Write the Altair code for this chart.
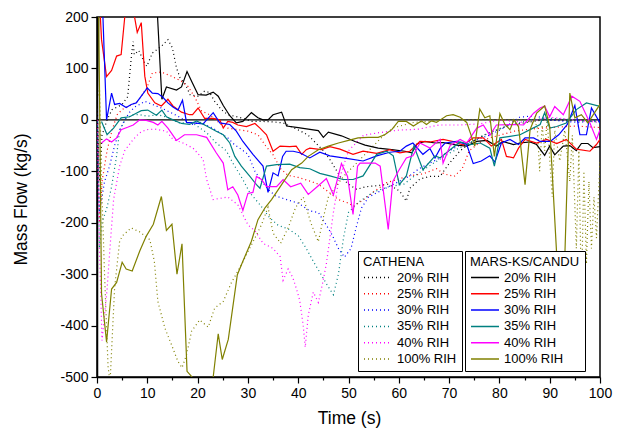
import altair as alt
import pandas as pd

labels = ["20% RIH", "25% RIH", "30% RIH", "35% RIH", "40% RIH", "100% RIH"]
colors = ["#000000", "#ff0000", "#0000ff", "#008080", "#ff00ff", "#808000"]

# ---------------- MARS-KS/CANDU (solid) ----------------
mars20_t = [0, 0.5, 11.5, 12.9, 13.8, 15.8, 16.8, 17.9, 18.9, 20.1, 21.7, 23.1, 24.1, 25.1, 26.4, 27.7, 29.0, 30.7, 32.0, 33.0,
            34.0, 35.0, 36.7, 37.7, 40.0, 42.0, 44.0, 45.0, 46.0, 48.6, 51.3, 53.3, 55.9, 58.6, 61.2, 62.6, 63.6, 65.2, 67.2, 68.8,
            71.5, 73.5, 75.5, 77.5, 79.4, 80.7, 82.8, 84.1, 86.1, 87.4, 89.0, 90.0, 91.0, 92.7, 94.0, 95.3, 96.3, 97.6, 98.6, 100]
mars20_v = [0, 300, 300, 40, 64, 58, 64, 94, 73, 49, 48, 54, 46, 28, 8, -6, -3, 14, 4, 0,
            0, 10, 15, -12, -15, -18, -21, -34, -24, -31, -42, -49, -55, -58, -61, -64, -47, -42, -45, -44,
            -49, -51, -42, -40, -51, -42, -48, -45, -43, -48, -69, -51, -68, -51, -50, -60, -46, -46, -54, -52]

mars25_t = [0.4, 0.9, 1.9, 2.9, 3.9, 4.8, 5.5, 6.3, 7.2, 8.0, 8.8, 9.5, 10.1, 11.5, 12.8, 14.1, 15.1, 16.8, 18.4, 19.0,
            20.1, 21.4, 23.1, 24.4, 25.1, 26.0, 27.0, 28.0, 29.7, 31.4, 32.4, 33.7, 35.0, 36.4, 38.3, 39.6, 40.7, 41.6, 42.3, 44.6,
            46.3, 48.3, 50.9, 52.9, 55.6, 58.2, 60.2, 62.2, 64.2, 66.2, 68.8, 70.8, 72.8, 74.8, 76.8, 78.4, 80.4, 81.4, 82.8, 83.8,
            85.1, 87.4, 89.4, 91.4, 93.3, 95.3, 98.0, 99.3, 100]
mars25_v = [250, 156, 84, 96, 124, 127, 198, 230, 215, 170, 189, 85, 52, 33, 27, 40, 27, 15, 10, 10,
            23, 3, 3, 0, -16, -3, -5, -10, -13, -7, -16, -29, -61, -51, -52, -51, -67, -58, -55, -58,
            -52, -57, -67, -61, -65, -58, -64, -61, -42, -43, -38, -42, -49, -35, -35, -51, -38, -71, -74, -55,
            -38, -45, -38, -46, -38, -57, -61, -48, -38]

mars30_t = [0.5, 1.0, 1.9, 2.9, 3.5, 4.5, 5.8, 6.8, 7.8, 8.8, 10.0, 11.0, 12.1, 13.1, 14.1, 15.1, 16.1, 17.0, 17.8, 19.1,
            21.1, 23.1, 24.4, 26.4, 27.7, 29.0, 31.0, 33.0, 34.0, 35.0, 36.0, 36.9, 37.6, 39.0, 40.3, 42.3, 44.3, 46.3, 49.6, 52.9,
            55.6, 58.2, 60.2, 61.5, 62.8, 64.8, 66.2, 67.2, 68.2, 69.2, 71.5, 73.5, 74.8, 76.4, 78.1, 79.1, 80.4, 82.1, 83.8, 85.1,
            86.8, 88.1, 90.1, 91.8, 93.5, 95.0, 96.0, 97.3, 98.3, 100]
mars30_v = [250, 250, 0, 52, 30, 32, 24, 30, 33, 46, 62, 52, 51, 44, 33, 25, 19, 38, -5, -6,
            -8, 14, -6, -9, -22, -42, -67, -90, -141, -103, -109, -71, -61, -61, -64, -74, -63, -70, -75, -80,
            -70, -63, -61, -51, -45, -67, -56, -74, -56, -45, -42, -48, -85, -80, -70, -82, -45, -38, -48, -35,
            -35, -42, -42, -29, -9, 28, -29, -29, 23, -6]

mars35_t = [0.9, 2.0, 3.3, 4.8, 6.5, 7.8, 8.8, 10.1, 11.8, 12.9, 13.8, 15.1, 16.8, 18.4, 19.8, 21.8, 23.7, 25.1, 26.4, 27.4,
            28.7, 30.4, 31.7, 32.4, 33.7, 35.7, 38.3, 40.3, 42.3, 44.3, 46.3, 48.9, 50.9, 52.9, 55.6, 57.6, 58.9, 60.1, 61.5, 63.0,
            64.8, 67.2, 68.2, 70.2, 72.2, 74.2, 76.2, 78.1, 79.0, 80.1, 82.1, 84.1, 86.1, 88.1, 89.0, 90.0, 91.4, 93.3, 95.3, 97.3,
            100]
mars35_v = [-3, -29, -16, 4, 6, 13, 18, 19, 9, 19, 6, 0, -7, -9, -2, -12, -22, -29, -45, -71,
            -90, -110, -126, -133, -90, -87, -86, -93, -95, -104, -109, -116, -116, -109, -67, -61, -70, -126, -109, -51,
            -97, -70, -74, -58, -43, -48, -45, -55, -90, -35, -32, -29, -19, -9, 14, -16, -13, -6, 20, 33,
            26]

mars40_t = [0.9, 1.9, 2.9, 3.9, 4.8, 6.2, 7.2, 8.5, 9.8, 11.2, 12.1, 12.9, 14.1, 15.8, 17.4, 19.8, 21.8, 23.7, 25.1, 26.0,
            27.0, 28.0, 29.0, 30.0, 31.0, 31.7, 32.7, 33.7, 35.7, 37.0, 38.5, 40.5, 42.0, 44.0, 45.6, 47.0, 48.6, 49.8, 50.9, 51.8,
            52.3, 55.3, 56.3, 57.9, 58.8, 59.9, 61.5, 62.8, 64.2, 66.2, 68.2, 68.8, 70.2, 72.2, 73.5, 75.5, 76.8, 78.1, 79.4, 82.8,
            84.8, 86.8, 88.1, 89.0, 90.0, 91.0, 92.7, 94.4, 96.0, 98.0, 99.3, 100]
mars40_v = [-45, -37, -43, -35, -19, -14, -10, 0, -1, -5, -10, -3, -16, -40, -29, -29, -34, -64, -84, -136,
            -130, -146, -176, -143, -141, -110, -116, -130, -130, -116, -130, -123, -145, -128, -114, -146, -85, -110, -184, -90,
            -84, -84, -90, -213, -120, -100, -74, -70, -45, -55, -38, -84, -50, -38, -45, -16, -10, -30, -10, -9,
            -10, 13, 23, 27, 6, 26, 10, 46, 36, -6, -38, -19]

mars100_t = [0.0, 0.3, 0.9, 1.9, 2.9, 3.9, 5.0, 5.8, 7.0, 8.5, 9.8, 11.2, 12.8, 13.8, 14.9, 15.9, 16.9, 17.9, 18.9, 20.0,
             21.0, 22.1, 23.1, 24.1, 24.9, 26.1, 27.9, 29.0, 30.7, 32.0, 33.4, 34.7, 36.7, 38.7, 40.7, 42.0, 44.0, 46.0, 48.0, 50.0,
             51.9, 53.9, 55.9, 57.2, 58.6, 59.9, 61.5, 62.9, 64.5, 65.5, 66.5, 67.5, 69.5, 70.8, 72.2, 73.5, 75.1, 76.1, 77.1, 78.1,
             79.0, 80.1, 81.1, 82.1, 82.9, 83.8, 85.1, 86.1, 87.4, 89.0, 90.0, 91.6, 92.9, 94.0, 95.0, 96.3, 97.6, 100]
mars100_v = [250, 250, -338, -432, -329, -316, -277, -290, -294, -255, -226, -203, -149, -215, -203, -300, -241, -489, -500, -540,
             -540, -510, -500, -416, -466, -427, -301, -275, -236, -194, -171, -155, -126, -97, -84, -71, -58, -51, -45, -40,
             -35, -34, -34, -29, -19, -3, -3, -12, -2, -9, -2, -5, 8, 10, 5, -5, -51, 21, 4, 8,
             -71, 12, -9, -19, 0, -13, -126, -19, 13, 27, -13, -300, -300, 52, 4, 10, -6, 30]

# ---------------- CATHENA (dotted) ----------------
cat20_t = [0, 0.5, 1, 2, 3, 4, 5, 6.1, 6.9, 7.2, 7.4, 8.3, 9.3, 9.9, 11, 12.8, 14.1, 15, 15.8, 16.5,
           17.5, 18.5, 20.1, 21.4, 22.4, 23.4, 24.7, 26, 27.4, 29, 30.7, 32.7, 35, 37, 39, 40.5, 42, 43.5, 45, 46.5,
           48.3, 50, 51.6, 53.5, 55.6, 58, 60.2, 61.5, 62.2, 64.2, 66.2, 68.2, 70, 72.2, 74.2, 76.8, 79.4, 82.1, 86.1, 88.8,
           92.7, 96, 100]
cat20_v = [40, -120, -30, 0, 20, 25, 30, 45, 130, 152, 127, 135, 114, 104, 130, 143, 156, 140, 101, 82,
           70, 49, 46, 56, 53, 36, 20, 10, 7, 3, -3, -3, -4, -6, -15, -22, -30, -45, -60, -80,
           -110, -125, -135, -130, -128, -125, -139, -158, -133, -115, -110, -110, -85, -60, -45, -30, -20, -10, -4, 0,
           -1, -2, -3]

cat25_t = [0, 0.5, 1, 2, 3, 4, 5, 6, 7, 8.1, 9.9, 11, 12.8, 14.8, 16.8, 18.1, 19.5, 20.8, 22.4, 24.7,
           26, 28, 30, 32, 33.5, 35, 36.5, 38, 40, 42, 44, 46, 48, 50, 51, 53, 55, 57.6, 60, 62,
           64.8, 67.5, 69, 71, 72.6, 74, 76, 78, 80, 83, 86, 90, 95, 100]
cat25_v = [30, -200, -120, -60, -20, 10, 20, 25, 30, 36, 62, 91, 93, 85, 75, 65, 43, 17, 10, -9,
           -16, -19, -22, -29, -50, -68, -95, -108, -112, -118, -125, -140, -155, -162, -168, -155, -140, -122, -115, -109,
           -105, -95, -105, -110, -95, -60, -45, -35, -30, -22, -18, -15, -12, -15]

cat30_t = [0, 0.5, 1, 1.5, 2.5, 3.5, 4.5, 5.5, 6.5, 7.5, 8.5, 9.5, 11, 12.8, 14.5, 16.5, 18.8, 20.5, 23, 26,
           27.3, 28.8, 30, 31.4, 32.7, 34, 35.5, 37.7, 40, 42.3, 44, 45.3, 46.7, 48, 49.2, 50.5, 51.5, 52.6, 54, 56,
           58, 60, 62, 64, 66, 68, 70, 72, 75, 78, 81, 84, 87, 90, 93, 96, 100]
cat30_v = [20, -180, -150, -120, -90, -50, -20, 0, 15, 25, 30, 36, 30, 23, 15, 5, -9, -5, -16, -35,
           -48, -58, -67, -100, -119, -135, -148, -155, -162, -177, -180, -200, -223, -250, -267, -250, -210, -171, -150, -140,
           -130, -120, -110, -95, -85, -75, -60, -50, -40, -30, -15, 5, 8, 0, -3, -5, 0]

cat35_t = [0, 0.5, 1, 2, 2.9, 3.9, 4.5, 5.8, 7.2, 8.5, 10, 12, 14, 16.4, 19, 21.8, 23.7, 25.7, 27, 29,
           30.4, 32.4, 34.3, 36, 38, 40, 41.6, 43, 44.5, 46, 47, 48, 49, 50, 52, 55, 58, 61, 63, 66,
           70, 74, 78, 82, 86, 90, 95, 100]
cat35_v = [20, -250, -200, -170, -130, -70, -20, 3, 10, 10, 7, 10, 5, -6, -6, -25, -45, -60, -84, -116,
           -142, -165, -190, -205, -212, -225, -250, -275, -300, -325, -340, -300, -230, -180, -160, -140, -130, -125, -110, -90,
           -65, -45, -25, -10, 0, 3, 0, -5]

cat40_t = [0, 0.5, 1, 1.5, 2, 2.5, 3.3, 4.5, 5.5, 7.2, 8.5, 9.8, 11.5, 13.8, 15.1, 17.1, 19.1, 21.1, 21.8, 23.1,
           26, 28, 30, 31.5, 33, 35, 36.4, 37, 38, 38.9, 39.7, 40.3, 41, 41.4, 42, 43, 44, 44.8, 45.6, 46.3,
           47, 48, 50, 53, 56, 60, 64, 68, 72, 76, 80, 85, 90, 95, 100]
cat40_v = [0, -250, -429, -380, -330, -260, -155, -90, -60, -38, -25, -19, -18, -22, -38, -45, -55, -77, -116, -155,
           -150, -165, -204, -217, -240, -250, -266, -312, -290, -306, -330, -351, -400, -442, -380, -335, -355, -320, -280, -230,
           -180, -120, -60, -30, -25, -20, -18, -10, -10, -8, 0, -5, 5, 0, -5]

cat100_t = [0, 0.5, 1.0, 1.5, 2.2, 2.6, 3.5, 4.5, 5.1, 6.8, 8.5, 10.5, 11.4, 12.1, 13.5, 14.8, 16.1, 16.9, 17.8, 18.8,
            20.4, 22.1, 23.4, 25.1, 26.7, 28.7, 30.0, 31.4, 32.7, 34.0, 35.0, 36.5, 38.0, 39.5, 41.0, 42.5, 44.0, 45.0, 46.0, 47.5,
            49.0, 51.0, 53.0, 55.0, 57.0, 59.0, 61.0, 63.0, 66.0, 70.0, 75.0, 80.0, 85.0, 87.5, 88.0, 88.5, 89.0, 89.5, 90.5, 91.0,
            92.0, 93.0, 94.0, 94.5, 95.3, 95.8, 96.3, 96.8, 97.3, 97.8, 98.3, 98.8, 99.3, 100]
cat100_v = [40, 60, -150, -300, -480, -510, -327, -236, -225, -210, -218, -233, -275, -353, -405, -437, -470, -482, -457, -411,
            -389, -403, -366, -353, -317, -282, -256, -230, -204, -170, -220, -240, -210, -170, -150, -200, -237, -190, -150, -130,
            -110, -90, -70, -50, -30, -15, -10, -5, -3, 0, 0, 0, 0, -10, -100, -10, -60, 0, -150, -20,
            -80, -20, -120, -30, -250, -60, -344, -100, -280, -120, -250, -150, -230, -80]


def long_frame(pairs):
    rows = []
    for lab, (ts, vs) in zip(labels, pairs):
        for i, (t, v) in enumerate(zip(ts, vs)):
            rows.append({"series": lab, "t": t, "v": v, "i": i})
    return pd.DataFrame(rows)


df_mars = long_frame([(mars20_t, mars20_v), (mars25_t, mars25_v), (mars30_t, mars30_v),
                      (mars35_t, mars35_v), (mars40_t, mars40_v), (mars100_t, mars100_v)])
df_cat = long_frame([(cat20_t, cat20_v), (cat25_t, cat25_v), (cat30_t, cat30_v),
                     (cat35_t, cat35_v), (cat40_t, cat40_v), (cat100_t, cat100_v)])

FONT = "Liberation Sans"

x_enc = alt.X(
    "t:Q",
    scale=alt.Scale(domain=[0, 100], nice=False, zero=False),
    axis=alt.Axis(
        title="Time (s)",
        values=list(range(0, 101, 5)),
        labelExpr="datum.value % 10 === 0 ? toString(datum.value) : ''",
        tickSize={"condition": {"test": "datum.value % 10 === 0", "value": 6}, "value": 3},
        labelPadding=3,
        labelFontSize=14,
        titleFontSize=17.5,
        titleFontWeight="normal",
        titleX=252,
        titleY=46,
        titleBaseline="alphabetic",
        titleAlign="center",
        grid=False,
        labelFlush=False,
        labelOverlap=False,
    ),
)
y_enc = alt.Y(
    "v:Q",
    scale=alt.Scale(domain=[-500, 200], nice=False, zero=False),
    axis=alt.Axis(
        title="Mass Flow (kg/s)",
        values=list(range(-500, 201, 50)),
        labelExpr="datum.value % 100 === 0 ? toString(datum.value) : ''",
        tickSize={"condition": {"test": "datum.value % 100 === 0", "value": 6}, "value": 3},
        labelPadding=3,
        labelFontSize=14,
        titleFontSize=17.5,
        titleFontWeight="normal",
        titleX=-71,
        titleY=182,
        titleAngle=270,
        titleBaseline="alphabetic",
        titleAlign="center",
        grid=False,
        labelFlush=False,
        labelOverlap=False,
    ),
)

zero = alt.Chart(pd.DataFrame({"z": [0]})).mark_rule(color="black", strokeWidth=1.1).encode(
    y=alt.datum(0)
)

dotted = alt.Chart(df_cat).mark_line(strokeDash=[1, 3], strokeWidth=1.2, clip=True).encode(
    x=x_enc,
    y=y_enc,
    stroke=alt.Stroke(
        "series:N",
        scale=alt.Scale(domain=labels, range=colors),
        legend=alt.Legend(title="CATHENA", orient="none", legendX=261, legendY=234,
                          symbolDash=[1, 3]),
    ),
    order=alt.Order("i:Q"),
)

solid = alt.Chart(df_mars).mark_line(strokeWidth=1.2, clip=True).encode(
    x=x_enc,
    y=y_enc,
    color=alt.Color(
        "series:N",
        scale=alt.Scale(domain=labels, range=colors),
        legend=alt.Legend(title="MARS-KS/CANDU", orient="none", legendX=368, legendY=234),
    ),
    order=alt.Order("i:Q"),
)

chart = (
    alt.layer(zero, dotted, solid)
    .resolve_scale(color="independent", stroke="independent")
    .properties(
        width=503,
        height=360,
        autosize=alt.AutoSizeParams(type="none"),
        padding={"left": 97, "top": 17, "right": 20, "bottom": 51},
        background="white",
    )
    .configure(font=FONT)
    .configure_view(stroke="black", strokeWidth=1.5)
    .configure_axis(
        domainColor="black",
        domainWidth=1.5,
        tickColor="black",
        tickWidth=1.2,
        labelColor="black",
        titleColor="black",
        labelFont=FONT,
        titleFont=FONT,
    )
    .configure_legend(
        strokeColor="black",
        fillColor="white",
        padding=5,
        cornerRadius=0,
        labelFontSize=13,
        titleFontSize=13,
        titleFontWeight="normal",
        titleColor="black",
        labelColor="black",
        labelFont=FONT,
        titleFont=FONT,
        symbolType="stroke",
        symbolSize=784,
        symbolStrokeWidth=1.5,
        clipHeight=13,
        rowPadding=2.3,
        titlePadding=2,
        labelOffset=4,
        offset=0,
    )
)

chart.save("out.html", embed_options={"renderer": "svg", "actions": False})
